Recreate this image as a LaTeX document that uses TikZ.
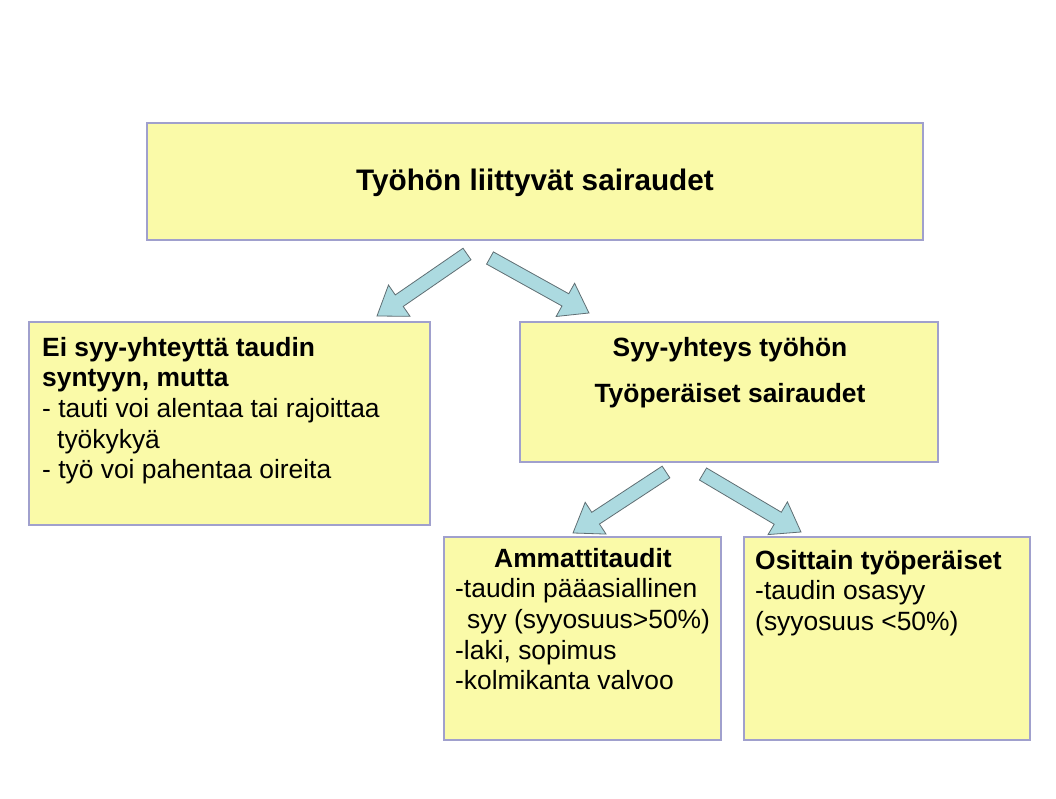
\documentclass[tikz,border=0pt]{standalone}
\usepackage{fontspec}
\setmainfont{Liberation Sans}
\usetikzlibrary{calc}
\definecolor{boxfill}{RGB}{250,250,168}
\definecolor{boxline}{RGB}{160,160,205}
\definecolor{arrfill}{RGB}{172,218,224}
\definecolor{arrline}{RGB}{95,110,115}
\tikzset{
  box/.style={draw=boxline, line width=1.5pt, fill=boxfill, inner sep=0pt},
  txt/.style={inner sep=0pt, align=left, font=\fontsize{26.4}{30.6}\selectfont},
  ctxt/.style={inner sep=0pt, align=center, font=\fontsize{26.4}{30.6}\selectfont\bfseries},
  blockarr/.style={draw=arrline, line width=0.8pt, fill=arrfill, line join=miter}
}
\newcommand{\blockarrow}[2]{%
  \draw[blockarr] let \p1=($(#2)-(#1)$), \n1={atan2(\y1,\x1)}, \n2={veclen(\x1,\y1)} in
    [shift={(#1)}, rotate=\n1]
    (0,-7) -- (\n2-27,-7) -- (\n2-27,-19) -- (\n2,0) -- (\n2-27,19) -- (\n2-27,7) -- (0,7) -- cycle;}
\begin{document}
\begin{tikzpicture}[x=1pt,y=-1pt]
\useasboundingbox (0,0) rectangle (1056,798);
\fill[white] (0,0) rectangle (1056,798);
% boxes
\node[box, minimum width=776, minimum height=117] (top) at (535,181.5) {};
\node[box, minimum width=401, minimum height=203] (left) at (229.5,423.5) {};
\node[box, minimum width=418, minimum height=140] (mid) at (729,392) {};
\node[box, minimum width=277, minimum height=203] (bl) at (582.5,638.5) {};
\node[box, minimum width=286, minimum height=203] (br) at (887,638.5) {};
% texts
\node[inner sep=0pt, font=\fontsize{29.7}{34}\selectfont\bfseries] (toptxt) at (535,183) {Työhön liittyvät sairaudet};
\node[txt, anchor=north west] (lefttxt) at (42,337) {\textbf{Ei syy-yhteyttä taudin}\\\textbf{syntyyn, mutta}\\- tauti voi alentaa tai rajoittaa\\\hspace*{15pt}työkykyä\\- työ voi pahentaa oireita};
\node[ctxt, anchor=base] (midtxt1) at (730,356) {Syy-yhteys työhön};
\node[ctxt, anchor=base] (midtxt2) at (730,402) {Työperäiset sairaudet};
\node[txt, anchor=north west] (bltxt) at (455,548) {\hspace*{39pt}\textbf{Ammattitaudit}\\-taudin pääasiallinen\\\hspace*{12pt}syy (syyosuus>50\%)\\-laki, sopimus\\-kolmikanta valvoo};
\node[txt, anchor=north west] (brtxt) at (755,550) {\textbf{Osittain työperäiset}\\-taudin osasyy\\(syyosuus <50\%)};
% arrows
\coordinate (a1s) at (467,254); \coordinate (a1e) at (377,316);
\coordinate (a2s) at (490,258); \coordinate (a2e) at (589,313);
\coordinate (a3s) at (666,472); \coordinate (a3e) at (573,533);
\coordinate (a4s) at (703,474); \coordinate (a4e) at (801,532);
\blockarrow{a1s}{a1e}
\blockarrow{a2s}{a2e}
\blockarrow{a3s}{a3e}
\blockarrow{a4s}{a4e}
\end{tikzpicture}
\end{document}
